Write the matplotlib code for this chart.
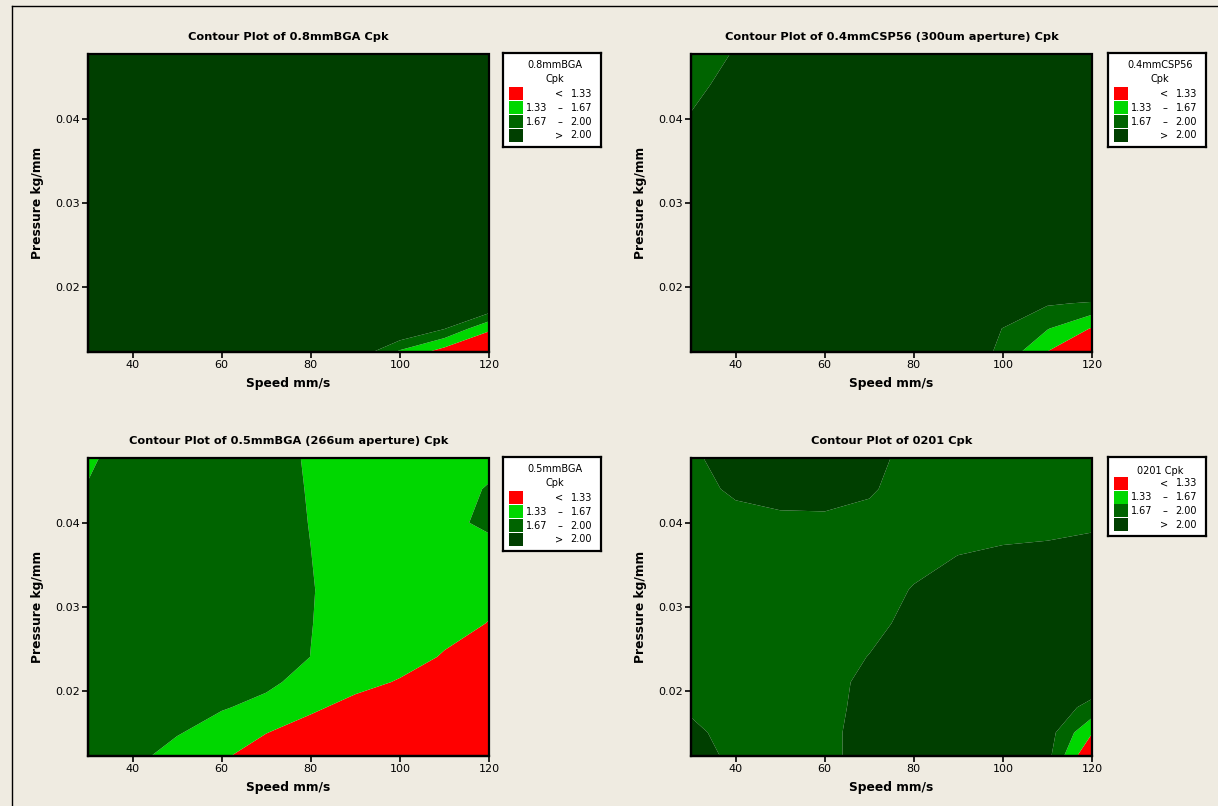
import numpy as np
import matplotlib
matplotlib.use('Agg')
import matplotlib.pyplot as plt
from matplotlib.patches import Rectangle
from matplotlib.lines import Line2D

# grid the response was read on
speed = [30, 40, 50, 60, 70, 80, 90, 100, 110, 120]
pressure = [0.012, 0.015, 0.018, 0.021, 0.024, 0.028, 0.032, 0.036, 0.040, 0.044, 0.048]

# Cpk values, one row per pressure (bottom to top), one column per speed
cpk_08bga = [
    [2.90, 2.85, 2.80, 2.70, 2.55, 2.40, 2.20, 1.55, 1.10, 0.95],
    [3.00, 2.95, 2.90, 2.85, 2.80, 2.70, 2.65, 2.40, 2.02, 1.38],
    [3.05, 3.00, 2.95, 2.90, 2.85, 2.80, 2.75, 2.70, 2.55, 2.40],
    [3.05, 3.00, 2.95, 2.90, 2.85, 2.80, 2.75, 2.75, 2.70, 2.65],
    [3.05, 3.00, 2.95, 2.90, 2.85, 2.80, 2.80, 2.75, 2.75, 2.70],
    [3.00, 3.00, 2.95, 2.90, 2.85, 2.85, 2.80, 2.80, 2.75, 2.75],
    [3.00, 2.95, 2.95, 2.90, 2.85, 2.85, 2.80, 2.80, 2.80, 2.75],
    [2.95, 2.95, 2.90, 2.90, 2.85, 2.85, 2.80, 2.80, 2.80, 2.80],
    [2.95, 2.90, 2.90, 2.85, 2.85, 2.80, 2.80, 2.80, 2.80, 2.80],
    [2.90, 2.90, 2.85, 2.85, 2.80, 2.80, 2.80, 2.80, 2.80, 2.80],
    [2.90, 2.85, 2.85, 2.80, 2.80, 2.80, 2.80, 2.75, 2.75, 2.75],
]

cpk_04csp56 = [
    [2.90, 2.85, 2.80, 2.75, 2.70, 2.60, 2.35, 1.89, 1.294, 1.00],
    [2.95, 2.90, 2.85, 2.80, 2.75, 2.65, 2.40, 1.99, 1.69, 1.307],
    [2.90, 2.90, 2.85, 2.80, 2.75, 2.70, 2.55, 2.40, 2.034, 1.97],
    [2.80, 2.85, 2.85, 2.80, 2.75, 2.70, 2.60, 2.55, 2.50, 2.50],
    [2.70, 2.80, 2.80, 2.80, 2.75, 2.70, 2.65, 2.60, 2.55, 2.55],
    [2.55, 2.70, 2.75, 2.75, 2.70, 2.70, 2.65, 2.60, 2.60, 2.55],
    [2.40, 2.60, 2.70, 2.70, 2.70, 2.65, 2.65, 2.60, 2.60, 2.55],
    [2.20, 2.45, 2.60, 2.65, 2.65, 2.65, 2.60, 2.60, 2.55, 2.55],
    [2.02, 2.30, 2.50, 2.60, 2.60, 2.60, 2.60, 2.55, 2.55, 2.50],
    [1.92, 2.106, 2.35, 2.50, 2.55, 2.55, 2.55, 2.55, 2.50, 2.50],
    [1.85, 2.015, 2.20, 2.40, 2.50, 2.50, 2.50, 2.50, 2.50, 2.45],
]

cpk_05bga = [
    [1.85, 1.74, 1.55, 1.37, 1.10, 0.95, 0.90, 0.85, 0.80, 0.75],
    [1.86, 1.80, 1.69, 1.55, 1.34, 1.15, 1.05, 0.95, 0.90, 0.85],
    [1.86, 1.82, 1.76, 1.69, 1.60, 1.40, 1.20, 1.10, 1.00, 0.95],
    [1.86, 1.84, 1.80, 1.76, 1.72, 1.58, 1.45, 1.30, 1.15, 1.00],
    [1.85, 1.84, 1.82, 1.80, 1.78, 1.668, 1.55, 1.48, 1.30, 1.15],
    [1.85, 1.84, 1.83, 1.81, 1.79, 1.675, 1.58, 1.55, 1.45, 1.32],
    [1.84, 1.84, 1.83, 1.81, 1.78, 1.68, 1.58, 1.55, 1.50, 1.42],
    [1.82, 1.83, 1.82, 1.80, 1.76, 1.672, 1.58, 1.55, 1.52, 1.50],
    [1.78, 1.81, 1.80, 1.78, 1.74, 1.665, 1.58, 1.56, 1.57, 1.75],
    [1.68, 1.77, 1.78, 1.76, 1.73, 1.66, 1.58, 1.56, 1.56, 1.69],
    [1.64, 1.75, 1.76, 1.75, 1.72, 1.655, 1.57, 1.55, 1.54, 1.58],
]

cpk_0201 = [
    [2.10, 1.95, 1.88, 1.90, 2.15, 2.20, 2.25, 2.25, 2.10, 0.90],
    [2.06, 1.90, 1.86, 1.90, 2.15, 2.22, 2.25, 2.25, 2.15, 1.35],
    [1.96, 1.84, 1.84, 1.88, 2.12, 2.20, 2.25, 2.25, 2.20, 1.90],
    [1.90, 1.83, 1.83, 1.86, 2.10, 2.18, 2.22, 2.24, 2.22, 2.20],
    [1.88, 1.83, 1.82, 1.85, 2.01, 2.15, 2.20, 2.22, 2.22, 2.20],
    [1.87, 1.82, 1.80, 1.82, 1.90, 2.10, 2.15, 2.18, 2.18, 2.18],
    [1.87, 1.82, 1.80, 1.80, 1.85, 2.02, 2.10, 2.12, 2.14, 2.15],
    [1.88, 1.83, 1.82, 1.82, 1.84, 1.90, 2.005, 2.05, 2.06, 2.12],
    [1.90, 1.90, 1.93, 1.94, 1.90, 1.86, 1.85, 1.90, 1.93, 1.95],
    [1.90, 2.05, 2.12, 2.12, 2.04, 1.85, 1.83, 1.85, 1.87, 1.88],
    [1.95, 2.15, 2.20, 2.18, 2.10, 1.90, 1.84, 1.84, 1.85, 1.86],
]

levels = [-10, 1.33, 1.67, 2.00, 10]
colors = ['#ff0000', '#00d700', '#006400', '#003f00']
bands = [('', '<', '1.33'), ('1.33', '\u2013', '1.67'), ('1.67', '\u2013', '2.00'), ('', '>', '2.00')]

panels = [
    (cpk_08bga, 'Contour Plot of 0.8mmBGA Cpk', '0.8mmBGA\nCpk'),
    (cpk_04csp56, 'Contour Plot of 0.4mmCSP56 (300um aperture) Cpk', '0.4mmCSP56\nCpk'),
    (cpk_05bga, 'Contour Plot of 0.5mmBGA (266um aperture) Cpk', '0.5mmBGA\nCpk'),
    (cpk_0201, 'Contour Plot of 0201 Cpk', '0201 Cpk'),
]

W, H = 1218, 806
bg = '#efebe1'
fig = plt.figure(figsize=(W / 100, H / 100), dpi=100, facecolor=bg)

# frame line along top and left of the window
fig.add_artist(Line2D([12 / W, 12 / W], [0, 1 - 6 / H], color='black', lw=1))
fig.add_artist(Line2D([12 / W, 1], [1 - 6 / H, 1 - 6 / H], color='black', lw=1))

# pixel boxes: (left, top) of plot area
plot_pos = [(88, 54), (691, 54), (88, 458), (691, 458)]
leg_pos = [(503, 53), (1108, 53), (503, 457), (1108, 457)]
pw, ph = 401, 298

X, Y = np.meshgrid(speed, pressure)

for (z, title, ltitle), (px, py), (lx, ly) in zip(panels, plot_pos, leg_pos):
    ax = fig.add_axes([px / W, 1 - (py + ph) / H, pw / W, ph / H])
    ax.contourf(X, Y, np.array(z), levels=levels, colors=colors, antialiased=True)
    ax.set_xlim(30, 120)
    ax.set_ylim(0.0122, 0.0477)
    ax.set_xticks([40, 60, 80, 100, 120])
    ax.set_yticks([0.02, 0.03, 0.04])
    ax.set_yticklabels(['0.02', '0.03', '0.04'])
    ax.tick_params(direction='out', length=4, width=1.2, labelsize=8, pad=2)
    for s in ['top', 'right']:
        ax.spines[s].set_visible(False)
    for s in ['left', 'bottom']:
        ax.spines[s].set_linewidth(1.6)
    ax.add_patch(Rectangle((0, 0), 1, 1, transform=ax.transAxes, fill=False,
                           lw=1.6, ec='black', zorder=5, clip_on=False))
    ax.set_xlabel('Speed mm/s', fontsize=8.8, fontweight='bold', labelpad=5)
    ax.set_ylabel('Pressure kg/mm', fontsize=8.8, fontweight='bold', labelpad=8)
    ax.set_title(title, fontsize=8.2, fontweight='bold', pad=10)

    # legend box, drawn in pixel units
    two_line = '\n' in ltitle
    lh = 94 if two_line else 79
    lw_ = 98
    lax = fig.add_axes([lx / W, 1 - (ly + lh) / H, lw_ / W, lh / H])
    lax.set_xlim(0, lw_)
    lax.set_ylim(lh, 0)
    lax.set_xticks([])
    lax.set_yticks([])
    lax.set_facecolor('white')
    for s in lax.spines.values():
        s.set_linewidth(1.6)
    if two_line:
        t1, t2 = ltitle.split('\n')
        lax.text(lw_ / 2 + 3, 12, t1, ha='center', va='center', fontsize=7)
        lax.text(lw_ / 2 + 3, 25.5, t2, ha='center', va='center', fontsize=7)
        y0 = 34
    else:
        lax.text(lw_ / 2 + 3, 13.5, ltitle, ha='center', va='center', fontsize=7)
        y0 = 19.5
    for i, (c, (a, sym, b)) in enumerate(zip(colors, bands)):
        yy = y0 + i * 13.8
        lax.add_patch(Rectangle((6, yy + 0.4), 14, 13, fc=c, ec='none'))
        yc = yy + 7
        if a:
            lax.text(44, yc, a, ha='right', va='center', fontsize=7)
        lax.text(56.5, yc, sym, ha='center', va='center', fontsize=7)
        lax.text(89, yc, b, ha='right', va='center', fontsize=7)

fig.savefig('out.png', dpi=100, facecolor=bg)
